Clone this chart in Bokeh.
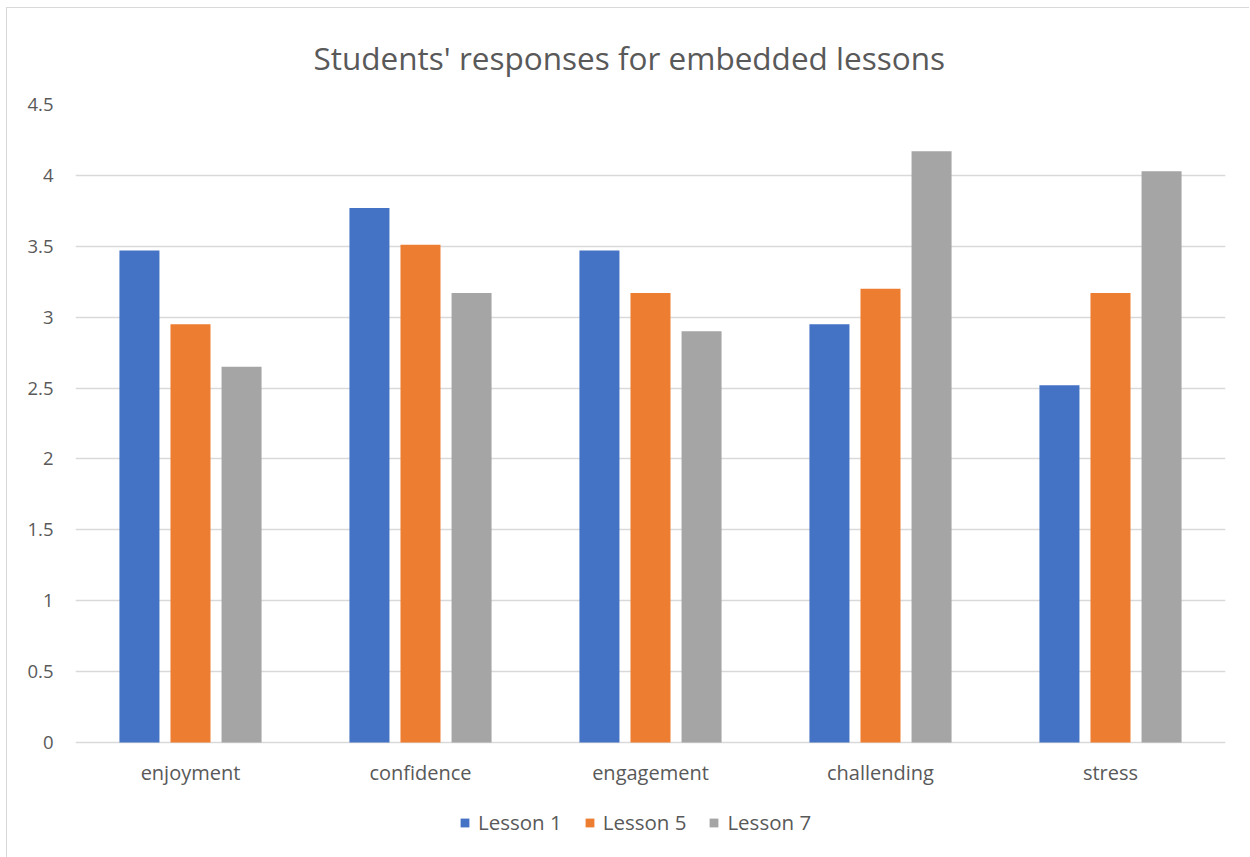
from bokeh.plotting import figure
from bokeh.models import ColumnDataSource, FactorRange, FixedTicker, Legend, LegendItem, Range1d
from bokeh.transform import dodge
from bokeh.embed import file_html
from bokeh.resources import INLINE

categories = ["enjoyment", "confidence", "engagement", "challending", "stress"]
series_names = ["Lesson 1", "Lesson 5", "Lesson 7"]
lesson1 = [3.47, 3.77, 3.47, 2.95, 2.52]
lesson5 = [2.95, 3.51, 3.17, 3.20, 3.17]
lesson7 = [2.65, 3.17, 2.90, 4.17, 4.03]
y_ticks = [0, 0.5, 1, 1.5, 2, 2.5, 3, 3.5, 4, 4.5]
y_tick_labels = ["0", "0.5", "1", "1.5", "2", "2.5", "3", "3.5", "4", "4.5"]

colors = ["#4472C4", "#ED7D31", "#A5A5A5"]
offsets = [-0.222, 0.0, 0.222]
TEXT = "#595959"
FONT = "Open Sans"

# value axis spans 638 px for 0..4.5; the frame continues below zero to hold the legend
FRAME_H = 745
PX_PER_UNIT = 638 / 4.5
y_low = -(FRAME_H - 638) / PX_PER_UNIT

source = ColumnDataSource(dict(cat=categories, l1=lesson1, l5=lesson5, l7=lesson7))

p = figure(
    x_range=FactorRange(*categories),
    y_range=Range1d(y_low, 4.5),
    frame_width=1150,
    frame_height=FRAME_H,
    output_backend="svg",
    toolbar_location=None,
    min_border_left=68,
    min_border_right=24,
    min_border_top=95,
    min_border_bottom=9,
    title="Students' responses for embedded lessons",
)
# chart area box: light rule on its left and top edges
p.styles = {
    "margin-left": "6px",
    "margin-top": "7px",
    "border-left": "1px solid #d9d9d9",
    "border-top": "1px solid #d9d9d9",
}

renderers = []
for col, color, off in zip(["l1", "l5", "l7"], colors, offsets):
    r = p.vbar(x=dodge("cat", off, range=p.x_range), top=col, width=0.174,
               source=source, fill_color=color, line_color=None)
    renderers.append(r)

p.title.align = "left"
p.title.offset = 238
p.title.text_font = FONT
p.title.text_font_size = "31.5px"
p.title.text_font_style = "normal"
p.title.text_color = TEXT
p.title.standoff = 51

p.outline_line_color = None
p.background_fill_color = "white"
p.border_fill_color = "white"

p.xgrid.grid_line_color = None
p.ygrid.grid_line_color = "#D9D9D9"
p.ygrid.grid_line_width = 1.3
p.ygrid.ticker = FixedTicker(ticks=y_ticks)

p.yaxis.ticker = FixedTicker(ticks=y_ticks)
p.yaxis.major_label_overrides = {t: s for t, s in zip(y_ticks, y_tick_labels)}
p.yaxis.axis_line_color = None
p.yaxis.major_tick_line_color = None
p.yaxis.minor_tick_line_color = None
p.yaxis.major_label_standoff = 16
p.yaxis.major_label_text_font = FONT
p.yaxis.major_label_text_font_size = "18.5px"
p.yaxis.major_label_text_color = TEXT

# category axis sits on the zero line
p.xaxis.fixed_location = 0
p.xaxis.axis_line_color = None
p.xaxis.major_tick_line_color = None
p.xaxis.minor_tick_line_color = None
p.xaxis.major_label_standoff = 10
p.xaxis.major_label_text_font = FONT
p.xaxis.major_label_text_font_size = "20px"
p.xaxis.major_label_text_color = TEXT

legend = Legend(
    items=[LegendItem(label=n, renderers=[r]) for n, r in zip(series_names, renderers)],
    orientation="horizontal",
    location=(384, 13),
    border_line_color=None,
    background_fill_alpha=0,
    glyph_width=11,
    glyph_height=11,
    label_standoff=8,
    spacing=22,
    padding=0,
    margin=0,
    label_text_font=FONT,
    label_text_font_size="20.5px",
    label_text_color=TEXT,
)
p.add_layout(legend, "center")

open("out.html", "w").write(file_html(p, INLINE))
